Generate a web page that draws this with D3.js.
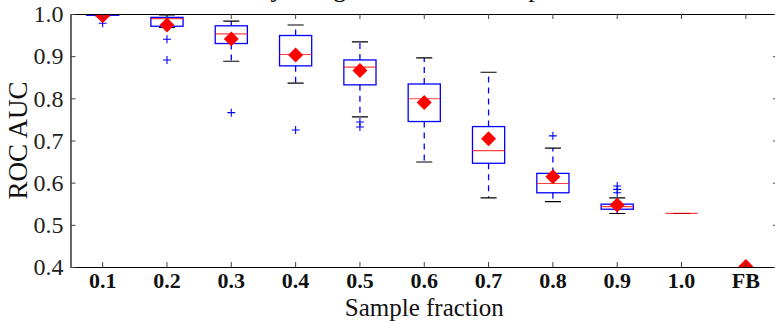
<!DOCTYPE html>
<html>
<head>
<meta charset="utf-8">
<script src="https://cdn.jsdelivr.net/npm/d3@7"></script>
<style>
    html, body { margin: 0; padding: 0; background: #fff; overflow: hidden; }
    #box-chart { width: 775px; height: 321px; }
</style>
</head>
<body>
<div id="box-chart"></div>
<script>
// data
const categories  = ['0.1', '0.2', '0.3', '0.4', '0.5', '0.6', '0.7', '0.8', '0.9', '1.0', 'FB'];
const whiskerLow  = [0.996, 0.968, 0.888, 0.836, 0.756, 0.649, 0.564, 0.555, 0.527, 0.527, null];
const q1          = [0.997, 0.971, 0.930, 0.877, 0.832, 0.745, 0.646, 0.576, 0.537, 0.527, null];
const medians     = [0.999, 0.989, 0.953, 0.904, 0.874, 0.799, 0.676, 0.598, 0.543, 0.527, null];
const q3          = [1.000, 0.992, 0.972, 0.949, 0.891, 0.834, 0.733, 0.622, 0.549, 0.527, null];
const whiskerHigh = [1.000, 0.998, 0.983, 0.974, 0.934, 0.896, 0.862, 0.682, 0.564, 0.527, null];
const means       = [0.996, 0.974, 0.941, 0.903, 0.866, 0.790, 0.704, 0.614, 0.547, null, 0.401];
const outliers    = [[0.993, 0.978], [0.940, 0.891], [0.766], [0.725], [0.744, 0.732], [], [], [0.711], [0.592, 0.584, 0.576], [], []];
const yTicks      = [0.4, 0.5, 0.6, 0.7, 0.8, 0.9, 1.0];

const width = 775;
const height = 321;
const margin = { top: 14, right: -3, bottom: 54, left: 70.5 };
const serif = '"Liberation Serif", "Times New Roman", serif';

const svg = d3.select('#box-chart')
    .append('svg')
    .attr('width', width)
    .attr('height', height)

// scales
const xScale = d3.scaleBand()
    .domain(categories)
    .range([margin.left, width - margin.right])
    .padding(0)

const yScale = d3.scaleLinear()
    .domain([0.4, 1.0])
    .range([height - margin.bottom, margin.top])

const bw = xScale.bandwidth();
const boxW = bw * 0.5;
const capW = boxW * 0.5;
const cx = (c) => xScale(c) + bw / 2;

// title (only its descenders reach into the visible area)
svg.append('text')
    .attr('x', 148)
    .attr('y', -3)
    .style('font-family', serif)
    .style('font-size', '26px')
    .style('text-anchor', 'start')
    .text('Test AUC by using a fraction of samples')

svg.append('clipPath')
    .attr('id', 'plot-clip')
    .append('rect')
    .attr('x', margin.left)
    .attr('y', margin.top)
    .attr('width', width - margin.right - margin.left)
    .attr('height', height - margin.bottom - margin.top)

const plot = svg.append('g').attr('clip-path', 'url(#plot-clip)');

const boxes = categories.map((c, i) => ({
    c, lo: whiskerLow[i], q1: q1[i], med: medians[i], q3: q3[i], hi: whiskerHigh[i]
})).filter(d => d.med !== null);

// whiskers
plot.append('g')
    .selectAll('line')
    .data(boxes.flatMap(d => [[d.c, d.q1, d.lo], [d.c, d.q3, d.hi]]))
    .join('line')
    .attr('x1', d => cx(d[0]))
    .attr('x2', d => cx(d[0]))
    .attr('y1', d => yScale(d[1]))
    .attr('y2', d => yScale(d[2]))
    .attr('stroke', '#0000ff')
    .attr('stroke-width', 1.3)
    .attr('stroke-dasharray', '6,5')

// caps
plot.append('g')
    .selectAll('line')
    .data(boxes.flatMap(d => [[d.c, d.lo], [d.c, d.hi]]))
    .join('line')
    .attr('x1', d => cx(d[0]) - capW / 2)
    .attr('x2', d => cx(d[0]) + capW / 2)
    .attr('y1', d => yScale(d[1]))
    .attr('y2', d => yScale(d[1]))
    .attr('stroke', '#000')
    .attr('stroke-width', 1.1)

// boxes
plot.append('g')
    .selectAll('rect')
    .data(boxes)
    .join('rect')
    .attr('x', d => cx(d.c) - boxW / 2)
    .attr('width', boxW)
    .attr('y', d => yScale(d.q3))
    .attr('height', d => yScale(d.q1) - yScale(d.q3))
    .attr('fill', 'none')
    .attr('stroke', '#0000ff')
    .attr('stroke-width', 1.3)

// medians
plot.append('g')
    .selectAll('line')
    .data(boxes)
    .join('line')
    .attr('x1', d => cx(d.c) - boxW / 2)
    .attr('x2', d => cx(d.c) + boxW / 2)
    .attr('y1', d => yScale(d.med))
    .attr('y2', d => yScale(d.med))
    .attr('stroke', '#ff0000')
    .attr('stroke-opacity', 0.75)
    .attr('stroke-width', 1.2)

// fliers
const plus = 4;
plot.append('g')
    .selectAll('path')
    .data(categories.flatMap((c, i) => outliers[i].map(v => [c, v])))
    .join('path')
    .attr('d', d => {
        const x = cx(d[0]), y = yScale(d[1]);
        return `M${x - plus},${y}H${x + plus}M${x},${y - plus}V${y + plus}`;
    })
    .attr('stroke', '#0000ff')
    .attr('stroke-width', 1.1)
    .attr('fill', 'none')

// means
plot.append('g')
    .selectAll('path')
    .data(categories.map((c, i) => [c, means[i]]).filter(d => d[1] !== null))
    .join('path')
    .attr('transform', d => `translate(${cx(d[0])},${yScale(d[1])}) rotate(45)`)
    .attr('d', d3.symbol(d3.symbolSquare, 112))
    .attr('fill', '#ff0000')

// axes
const tickLen = 5;
const styleAxis = (g) => {
    g.select('.domain').attr('stroke', '#000').attr('stroke-width', 1.2);
    g.selectAll('.tick line').attr('stroke', '#444');
};

const xBottom = svg.append('g')
    .attr('transform', `translate(0,${height - margin.bottom})`)
    .call(d3.axisBottom(xScale).tickSizeInner(-tickLen).tickSizeOuter(0).tickPadding(5.5))
    .call(styleAxis)

xBottom.selectAll('text')
    .style('font-family', serif)
    .style('font-size', '22px')
    .style('font-weight', 'bold')
    .attr('fill', '#111')

svg.append('g')
    .attr('transform', `translate(0,${margin.top})`)
    .call(d3.axisTop(xScale).tickSizeInner(-tickLen).tickSizeOuter(0).tickFormat(''))
    .call(styleAxis)

const yLeft = svg.append('g')
    .attr('transform', `translate(${margin.left},0)`)
    .call(d3.axisLeft(yScale).tickValues(yTicks).tickFormat(d3.format('.1f'))
        .tickSizeInner(-tickLen).tickSizeOuter(0).tickPadding(7))
    .call(styleAxis)

yLeft.selectAll('text')
    .style('font-family', serif)
    .style('font-size', '24px')
    .attr('fill', '#222')

svg.append('g')
    .attr('transform', `translate(${width - margin.right},0)`)
    .call(d3.axisRight(yScale).tickValues(yTicks).tickSizeInner(-tickLen).tickSizeOuter(0).tickFormat(''))
    .call(styleAxis)

// axis labels
svg.append('text')
    .attr('x', (margin.left + width - margin.right) / 2)
    .attr('y', 315.5)
    .style('font-family', serif)
    .style('font-size', '25px')
    .style('text-anchor', 'middle')
    .attr('fill', '#111')
    .text('Sample fraction')

svg.append('text')
    .attr('transform', `translate(27,${(margin.top + height - margin.bottom) / 2}) rotate(-90)`)
    .style('font-family', serif)
    .style('font-size', '27px')
    .style('text-anchor', 'middle')
    .attr('fill', '#111')
    .text('ROC AUC')
</script>
</body>
</html>
